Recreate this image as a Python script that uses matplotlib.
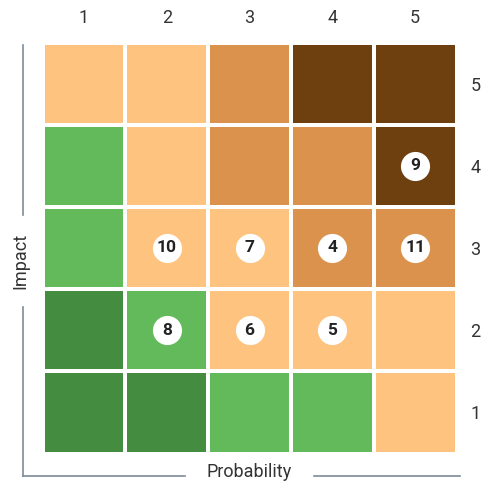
import matplotlib
matplotlib.use("Agg")
import matplotlib.pyplot as plt
from matplotlib.colors import ListedColormap, BoundaryNorm
from matplotlib.lines import Line2D
import numpy as np

plt.rcParams['font.family'] = ['Roboto', 'DejaVu Sans']

# Risk matrix levels, rows from impact 5 (top) down to impact 1
probability = [1, 2, 3, 4, 5]
impact = [5, 4, 3, 2, 1]
levels = [
    [2, 2, 3, 4, 4],
    [1, 2, 3, 3, 4],
    [1, 2, 2, 3, 3],
    [0, 1, 2, 2, 2],
    [0, 0, 1, 1, 2],
]
level_colors = ['#448C40', '#63BA5B', '#FEC37E', '#DB924D', '#6E3F0F']

# Numbered risks placed at (probability, impact)
risk_ids = [9, 10, 7, 4, 11, 8, 6, 5]
risk_prob = [5, 2, 3, 4, 5, 2, 3, 4]
risk_impact = [4, 3, 3, 3, 3, 2, 2, 2]

W = H = 482
fig = plt.figure(figsize=(W / 100, H / 100), dpi=100)
x0, x1, y0, y1 = 42.5, 456.5, 42.5, 453.5
ax = fig.add_axes([x0 / W, 1 - y1 / H, (x1 - x0) / W, (y1 - y0) / H])

cmap = ListedColormap(level_colors)
norm = BoundaryNorm(np.arange(-0.5, 5.5, 1), cmap.N)
grid = np.array(levels[::-1])  # row 0 = impact 1
xe = np.arange(0.5, 6.5, 1)
ye = np.arange(0.5, 6.5, 1)
ax.pcolormesh(xe, ye, grid, cmap=cmap, norm=norm, edgecolors='white', linewidth=2.6)

ax.set_xlim(0.5, 5.5)
ax.set_ylim(0.5, 5.5)
for s in ax.spines.values():
    s.set_visible(False)
ax.xaxis.tick_top()
ax.yaxis.tick_right()
ax.set_xticks(probability)
ax.set_xticklabels([str(p) for p in probability])
ax.set_yticks(impact)
ax.set_yticklabels([str(i) for i in impact])
ax.tick_params(length=0, labelsize=13, labelcolor='#333333')
ax.tick_params(axis='x', pad=11)
ax.tick_params(axis='y', pad=10)

ax.scatter(risk_prob, risk_impact, s=440, color='white', zorder=3, linewidths=0)
for rid, px, py in zip(risk_ids, risk_prob, risk_impact):
    ax.text(px, py, str(rid), ha='center', va='center', fontsize=12.5,
            fontweight='bold', color='#222222', zorder=4)

# Axis titles with bracket lines
line_color = '#7D8B99'
def fx(px):
    return px / W
def fy(py):
    return 1 - py / H

segments = [
    ((23, 23), (45, 215)),
    ((23, 23), (307, 475.5)),
    ((23, 185), (475.5, 475.5)),
    ((314, 460), (475.5, 475.5)),
]
for xs, ys in segments:
    fig.add_artist(Line2D([fx(v) for v in xs], [fy(v) for v in ys],
                          color=line_color, linewidth=1.2, transform=fig.transFigure))

fig.text(fx(20), fy(261), 'Impact', rotation=90, ha='center', va='center',
         fontsize=13, color='#333333')
fig.text(fx(249.5), fy(481), 'Probability', ha='center', va='bottom',
         fontsize=13, color='#333333')

fig.savefig('out.png', dpi=100)
